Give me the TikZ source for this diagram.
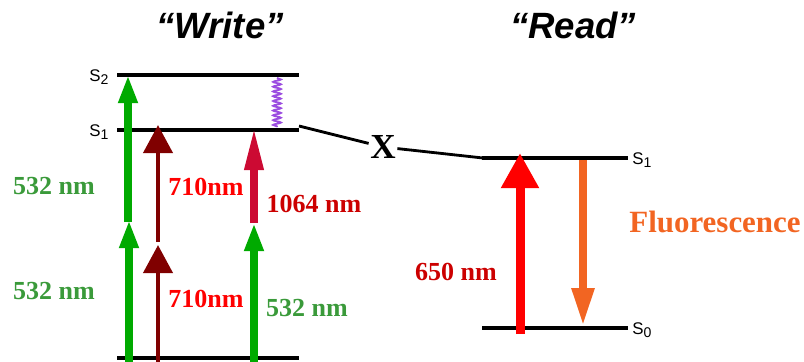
\documentclass[tikz,border=0pt]{standalone}
\usepackage{fontspec}
\setmainfont{Liberation Serif}
\setsansfont{Liberation Sans}
\usepackage{xcolor}
\usetikzlibrary{arrows.meta,decorations.pathmorphing}

\definecolor{lasergreen}{HTML}{00AA00}
\definecolor{labelgreen}{HTML}{3A9A3A}
\definecolor{darkred}{HTML}{800000}
\definecolor{crimson}{HTML}{CC0A33}
\definecolor{labelred}{HTML}{CC0000}
\definecolor{brightred}{HTML}{FF0000}
\definecolor{wavepurple}{HTML}{9B4DE0}
\definecolor{fluor}{HTML}{F26522}

\newcommand{\lev}[1]{{\sffamily\fontsize{12}{12}\selectfont S\raisebox{-0.4ex}{\fontsize{10}{10}\selectfont #1}}}
\newcommand{\lab}{\bfseries\fontsize{18.5}{20}\selectfont}

\tikzset{
  level/.style={line width=3.5pt},
  greenbeam/.style={lasergreen, line width=5.7pt, -{Triangle[width=12.8pt,length=20pt]}},
  redbeam/.style={darkred, line width=3.5pt, -{Triangle[width=20.5pt,length=20pt]}},
  irbeam/.style={crimson, line width=5pt, -{Triangle[width=12.8pt,length=30pt]}},
  title/.style={font=\sffamily\bfseries\itshape\fontsize{26}{28}\selectfont}
}

\begin{document}
\begin{tikzpicture}[x=0.025cm, y=-0.025cm]
\useasboundingbox (0,0) rectangle (804,362);

% Titles
\node[title] (wtitle) at (220,25) {``Write''};
\node[title] (rtitle) at (573,25) {``Read''};

% Write levels
\draw[level] (117,75) -- (299,75);
\draw[level] (117,130) -- (299,130);
\draw[level] (117,358) -- (299,358);
\node (ws2) at (99,77) {\lev{2}};
\node (ws1) at (99,132) {\lev{1}};

% Read levels
\draw[level] (482,158) -- (628,158);
\draw[level] (482,328) -- (628,328);
\node (rs1) at (642,160) {\lev{1}};
\node (rs0) at (642,330) {\lev{0}};

% Two photons of 532 nm
\coordinate (ga0) at (129,362);
\coordinate (ga1) at (129,220);
\coordinate (ga2) at (128,222);
\coordinate (ga3) at (128,75);
\draw[greenbeam] (ga0) -- (ga1);
\draw[greenbeam] (ga2) -- (ga3);

% Two photons of 710 nm
\coordinate (ra0) at (158,362);
\coordinate (ra1) at (158,245);
\coordinate (ra2) at (158,242);
\coordinate (ra3) at (158,125);
\draw[redbeam] (ra0) -- (ra1);
\draw[redbeam] (ra2) -- (ra3);

% 532 nm + 1064 nm
\coordinate (gb0) at (254,362);
\coordinate (gb1) at (254,223);
\coordinate (ib1) at (254,128);
\draw[greenbeam] (gb0) -- (gb1);
\draw[irbeam] (gb1) -- (ib1);

% Relaxation S2 -> S1
\coordinate (wv0) at (277,78);
\coordinate (wv1) at (277,127);
\draw[wavepurple, line width=1.3pt, decorate,
  decoration={snake, amplitude=2.8pt, segment length=3.4pt}] (wv0) -- (wv1);

% Link between the two S1 states
\coordinate (ws1end) at (299,126);
\coordinate (rs1end) at (483,158);
\node[font=\bfseries\fontsize{25}{25}\selectfont, inner sep=1pt] (cross) at (383,147) {X};
\draw[line width=2pt] (ws1end) -- (cross) -- (rs1end);

% Read: excitation and fluorescence
\coordinate (rd0) at (520,334);
\coordinate (rd1) at (520,153);
\coordinate (fl0) at (583,160);
\coordinate (fl1) at (583,326);
\draw[brightred, line width=6.4pt, -{Triangle[width=25.5pt,length=25pt]}] (rd0) -- (rd1);
\draw[fluor, line width=5.7pt, -{Triangle[width=15pt,length=27pt]}] (fl0) -- (fl1);

% Labels
\node[labelgreen, font=\lab] (l532a) at (54,186) {532 nm};
\node[labelgreen, font=\lab] (l532b) at (54,291) {532 nm};
\node[brightred, font=\lab] (l710a) at (206,187) {710nm};
\node[brightred, font=\lab] (l710b) at (206,299) {710nm};
\node[labelred, font=\lab] (l1064) at (314,204) {1064 nm};
\node[labelgreen, font=\lab] (l532c) at (307,308) {532 nm};
\node[labelred, font=\lab] (l650) at (456,272) {650 nm};
\node[fluor, font=\bfseries\fontsize{22}{24}\selectfont] (lfl) at (715,222) {Fluorescence};
\end{tikzpicture}
\end{document}
